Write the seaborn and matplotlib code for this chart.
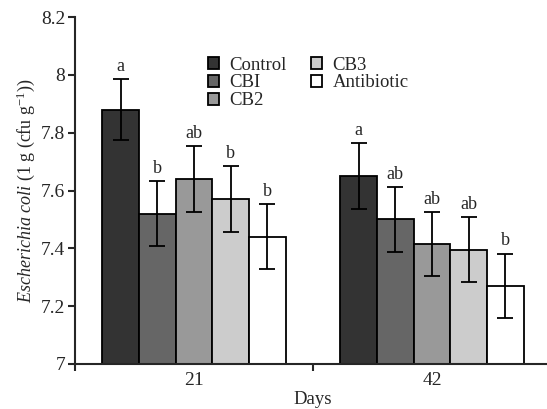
import matplotlib
matplotlib.use("Agg")
import matplotlib.pyplot as plt
import seaborn as sns
import pandas as pd
from matplotlib.patches import Patch

days = ["21", "42"]
groups = ["Control", "CBI", "CB2", "CB3", "Antibiotic"]
means_21 = [7.88, 7.52, 7.64, 7.57, 7.44]
means_42 = [7.65, 7.50, 7.415, 7.395, 7.27]
err_21 = [0.104, 0.113, 0.113, 0.113, 0.112]
err_42 = [0.113, 0.112, 0.112, 0.113, 0.112]
letters_21 = ["a", "b", "ab", "b", "b"]
letters_42 = ["a", "ab", "ab", "ab", "b"]
colors = ["#333333", "#666666", "#999999", "#cccccc", "#ffffff"]

sns.set_style("ticks")
plt.rcParams["font.family"] = ["Liberation Serif", "DejaVu Serif"]
plt.rcParams["mathtext.fontset"] = "custom"
plt.rcParams["mathtext.rm"] = "Liberation Serif"
plt.rcParams["mathtext.it"] = "Liberation Serif:italic"

rows = []
for d, ms, es, ls in [(days[0], means_21, err_21, letters_21), (days[1], means_42, err_42, letters_42)]:
    for g, m, e, l in zip(groups, ms, es, ls):
        rows.append({"Day": d, "Group": g, "Value": m, "Err": e, "Letter": l})
df = pd.DataFrame(rows)

fig = plt.figure(figsize=(5.47, 4.09), dpi=100)
ax = fig.add_axes([75 / 547, 1 - 364 / 409, (551 - 75) / 547, (364 - 17) / 409])

sns.barplot(data=df, x="Day", y="Value", hue="Group", order=days, hue_order=groups,
            palette=colors, width=0.77, edgecolor="black", linewidth=1.3,
            errorbar=None, legend=False, ax=ax, bottom=0)

bars = [p for p in ax.patches if p.get_height() > 0]
for p in bars:
    cx = p.get_x() + p.get_width() / 2
    h = p.get_height()
    row = df.loc[(df["Value"] - h).abs() < 1e-9].iloc[0]
    ax.errorbar(cx, h, yerr=row["Err"], fmt="none", ecolor="black", elinewidth=1.3,
                capsize=5.5, capthick=1.3, zorder=5)
    ax.text(cx, h + row["Err"] + 0.014, row["Letter"], ha="center", va="bottom",
            fontsize=13, zorder=6)

ax.set_ylim(7, 8.2)
ax.set_xlim(-0.5, 1.5)
ax.set_yticks([7, 7.2, 7.4, 7.6, 7.8, 8, 8.2])
ax.set_yticklabels(["7", "7.2", "7.4", "7.6", "7.8", "8", "8.2"])
ax.set_xticks([-0.5, 0.5], labels=["", ""])
ax.set_xticks([0, 1], labels=days, minor=True)
ax.tick_params(axis="x", which="minor", length=0, labelsize=14, pad=6)
ax.tick_params(axis="x", which="major", length=5, width=1.5, direction="out")
ax.tick_params(axis="y", length=5, width=1.5, direction="out", labelsize=14, pad=2)
for s in ["top", "right"]:
    ax.spines[s].set_visible(False)
for s in ["left", "bottom"]:
    ax.spines[s].set_linewidth(1.5)

ax.set_xlabel("Days", fontsize=13.5, labelpad=1)
ax.set_ylabel(r"$\it{Escherichia\ coli}$ (1 g (cfu g$^{-1}$))", fontsize=13, labelpad=3)

handles = [Patch(facecolor=c, edgecolor="black", linewidth=1.3, label=g) for c, g in zip(colors, groups)]
fig.legend(handles=handles, ncol=2, loc="upper left", bbox_to_anchor=(200 / 547, 1 - 49 / 409),
           frameon=False, fontsize=13.5, handlelength=0.6, handleheight=0.6,
           handletextpad=0.55, columnspacing=1.3, labelspacing=0.05, borderaxespad=0)

fig.savefig("out.png", dpi=100)
